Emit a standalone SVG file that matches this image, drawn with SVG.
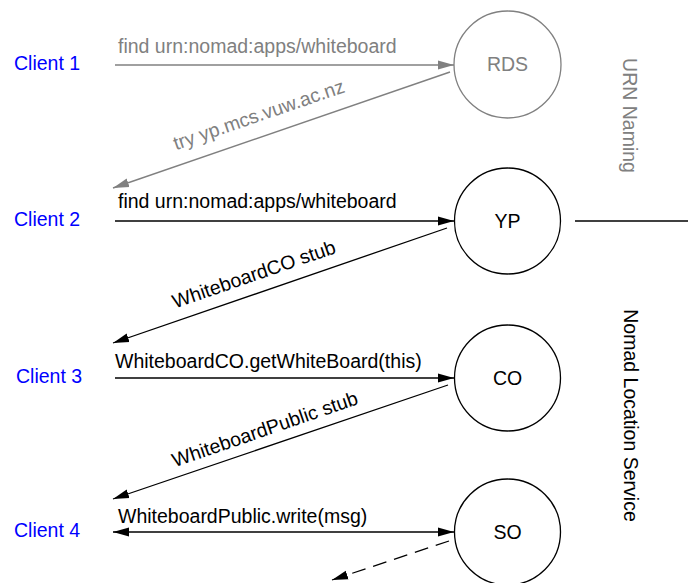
<svg xmlns="http://www.w3.org/2000/svg" width="688" height="583" viewBox="0 0 688 583">
<style>
  text { font-family: "Liberation Sans", Arial, sans-serif; font-size: 19.5px; }
  .client { fill: #0000ff; }
  .gray { fill: #808080; }
  .blk { fill: #000; }
  .mid { text-anchor: middle; }
  .node-g { fill: none; stroke: #808080; stroke-width: 1.3; }
  .node-k { fill: none; stroke: #000; stroke-width: 1.3; }
  .ln-g { stroke: #808080; stroke-width: 1.5; fill: none; }
  .ln-k { stroke: #000; stroke-width: 1.3; fill: none; }
  .dash { stroke-dasharray: 14 8; }
</style>
<defs>
  <marker id="ah-g" markerUnits="userSpaceOnUse" markerWidth="16" markerHeight="10" refX="16" refY="5" orient="auto-start-reverse">
    <path d="M0,0.5 L16,5 L0,9.5 Z" fill="#808080"/>
  </marker>
  <marker id="ah-k" markerUnits="userSpaceOnUse" markerWidth="16" markerHeight="10" refX="16" refY="5" orient="auto-start-reverse">
    <path d="M0,0.5 L16,5 L0,9.5 Z" fill="#000"/>
  </marker>
</defs>

<g id="clients">
  <g id="client1"><text class="client" x="14" y="69.5">Client 1</text></g>
  <g id="client2"><text class="client" x="14" y="225.5">Client 2</text></g>
  <g id="client3"><text class="client" x="16" y="382.5">Client 3</text></g>
  <g id="client4"><text class="client" x="14" y="536.5">Client 4</text></g>
</g>

<g id="node-rds">
  <ellipse class="node-g" cx="507.5" cy="64.5" rx="53.5" ry="53.5"/>
  <text class="gray mid" x="507.5" y="71">RDS</text>
</g>
<g id="node-yp">
  <ellipse class="node-k" cx="507.5" cy="221" rx="53" ry="53"/>
  <text class="blk mid" x="507.5" y="227.5">YP</text>
</g>
<g id="node-co">
  <ellipse class="node-k" cx="507.5" cy="378" rx="53" ry="53"/>
  <text class="blk mid" x="507.5" y="385">CO</text>
</g>
<g id="node-so">
  <ellipse class="node-k" cx="507.5" cy="532" rx="53" ry="53"/>
  <text class="blk mid" x="507.5" y="538.5">SO</text>
</g>

<g id="connectors">
  <line class="ln-g" x1="115" y1="65" x2="454" y2="65" marker-end="url(#ah-g)"/>
  <line class="ln-g" x1="450" y1="72" x2="113" y2="188" marker-end="url(#ah-g)"/>
  <line class="ln-k" x1="115" y1="221" x2="454" y2="221" marker-end="url(#ah-k)"/>
  <line class="ln-k" x1="447" y1="228" x2="113" y2="343" marker-end="url(#ah-k)"/>
  <line class="ln-k" x1="575" y1="221" x2="688" y2="221"/>
  <line class="ln-k" x1="115" y1="378" x2="454" y2="378" marker-end="url(#ah-k)"/>
  <line class="ln-k" x1="448" y1="385" x2="113" y2="499" marker-end="url(#ah-k)"/>
  <line class="ln-k" x1="113" y1="532" x2="454" y2="532" marker-start="url(#ah-k)" marker-end="url(#ah-k)"/>
  <line class="ln-k dash" x1="449" y1="541" x2="332" y2="580" marker-end="url(#ah-k)"/>
</g>

<g id="labels">
  <text class="gray" x="118" y="53">find urn:nomad:apps/whiteboard</text>
  <text class="gray mid" transform="translate(261,121) rotate(-19)">try yp.mcs.vuw.ac.nz</text>
  <text class="blk" x="118" y="208">find urn:nomad:apps/whiteboard</text>
  <text class="blk mid" transform="translate(256,280.5) rotate(-19)">WhiteboardCO stub</text>
  <text class="blk" x="115" y="367.5">WhiteboardCO.getWhiteBoard(this)</text>
  <text class="blk mid" transform="translate(267,435.5) rotate(-19)">WhiteboardPublic stub</text>
  <text class="blk" x="118" y="522.5">WhiteboardPublic.write(msg)</text>
</g>

<g id="regions">
  <text class="gray mid" transform="translate(623,115.5) rotate(90)">URN Naming</text>
  <text class="blk mid" transform="translate(624,415.5) rotate(90)">Nomad Location Service</text>
</g>
</svg>
